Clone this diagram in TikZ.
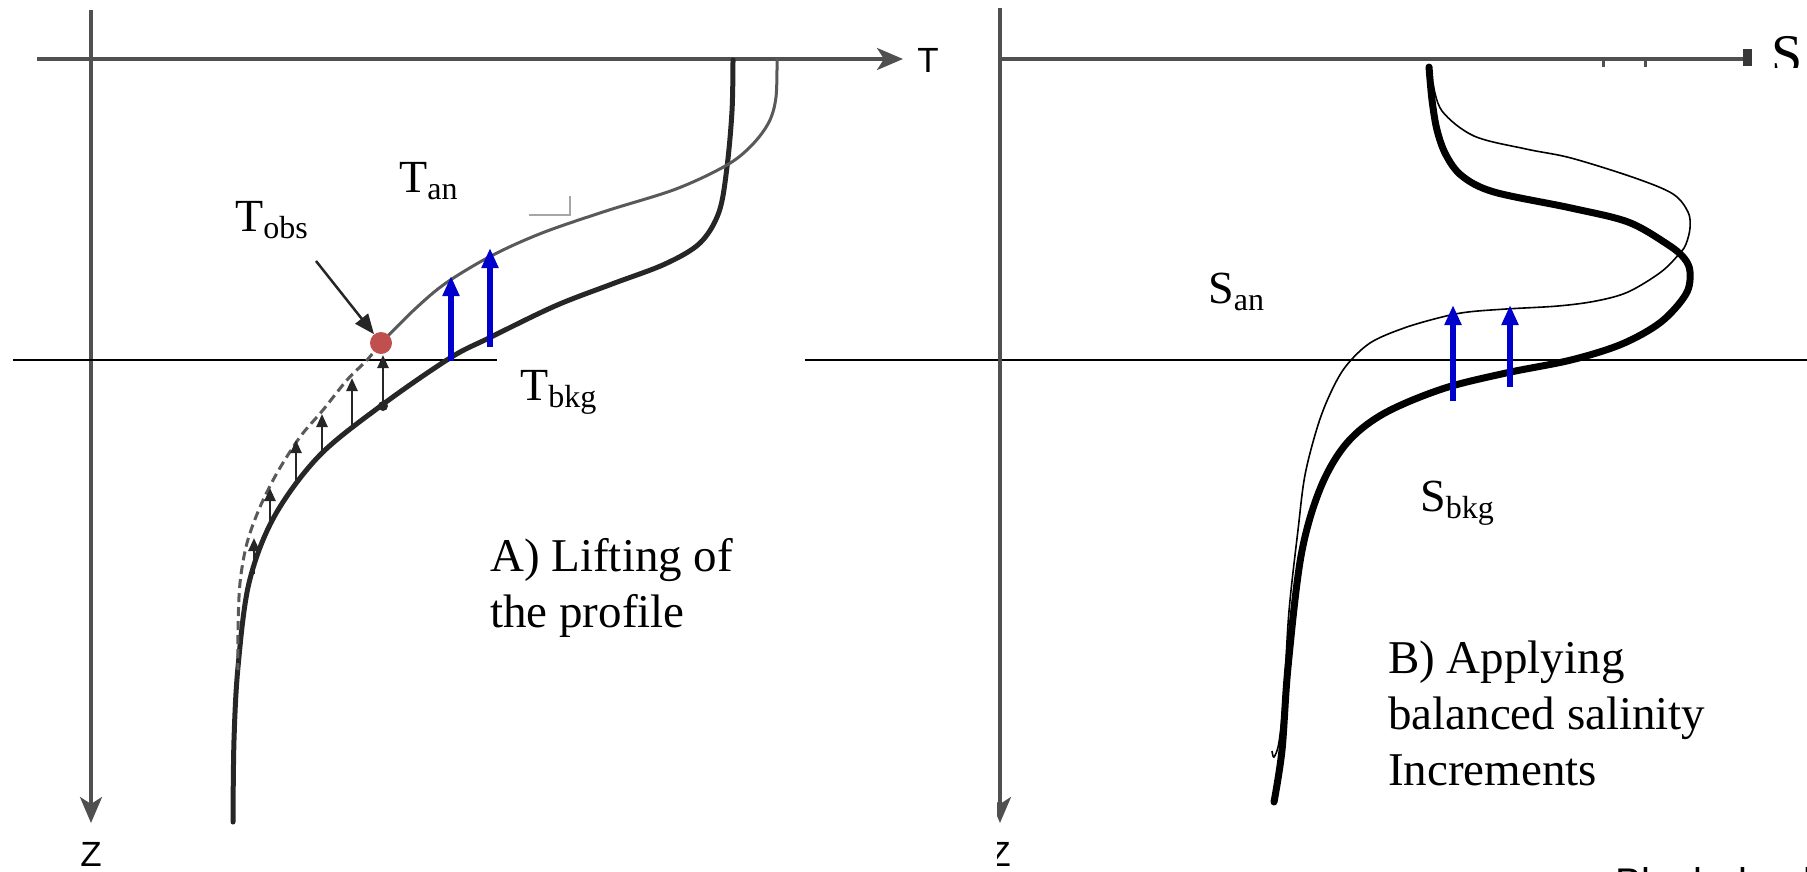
\documentclass[tikz,border=0pt]{standalone}
\usepackage{fontspec}
\setmainfont{Liberation Serif}
\newfontfamily\axisfont{Liberation Sans}
\usetikzlibrary{arrows.meta}
\definecolor{dotred}{RGB}{192,80,77}
\definecolor{incblue}{RGB}{0,0,204}
\definecolor{axisgray}{RGB}{80,80,80}
\newcommand{\sublbl}[2]{{\fontsize{46}{50}\selectfont #1}\raisebox{-7pt}{\fontsize{32}{36}\selectfont #2}}
\begin{document}
\begin{tikzpicture}[x=1pt,y=-1pt,
  axisln/.style={draw=axisgray,line width=3.5pt},
  axtip/.style={-{Stealth[length=26pt,width=22pt,inset=7pt]}},
  levelln/.style={draw=black,line width=2pt},
  bkgT/.style={draw=black!85,line width=5pt,line cap=round},
  anT/.style={draw=black!65,line width=3pt},
  liftdash/.style={draw=black!65,line width=3pt,dash pattern=on 9pt off 5pt},
  lift/.style={draw=black!85,line width=2.5pt,-{Triangle[length=13pt,width=11pt]}},
  incr/.style={draw=incblue,line width=5.5pt,-{Triangle[length=20pt,width=16pt]}},
  bkgS/.style={draw=black,line width=7pt,line cap=round},
  anS/.style={draw=black,line width=1.6pt},
  lbl/.style={inner sep=0pt,anchor=base west},
  caption/.style={inner sep=0pt,anchor=base west,font=\fontsize{47}{56}\selectfont},
  axlbl/.style={inner sep=0pt,font=\axisfont\fontsize{35}{38}\selectfont},
]
\useasboundingbox (0,0) rectangle (1807,871);
\fill[white] (0,0) rectangle (1807,871);

% ---------------- left panel: temperature ----------------
\draw[axisln,axtip] (37,59) -- (903,59);
\draw[axisln,axtip] (91,10) -- (91,823);
\node[axlbl] (tax) at (928,60) {T};
\node[axlbl] (zax) at (91,854) {Z};
\draw[levelln] (13,360) -- (497,360);

% background temperature (thick)
\draw[bkgT] plot[smooth,tension=0.55] coordinates {(733,60) (732,111) (727,167) (719,212) (700,243) (665,264) (612,284) (555,306) (489,338) (450,358) (382,405) (319,456) (274,517) (249,583) (238,667) (234,740) (233,822)};
% analysis temperature (thin)
\draw[anT] plot[smooth,tension=0.55] coordinates {(777,58) (776,97) (769,122) (752,145) (727,165) (676,189) (606,211) (542,233) (491,256) (446,283) (415,309) (381,343)};
% lifted part (dashed)
\draw[liftdash] plot[smooth,tension=0.55] coordinates {(381,343) (367,360) (347,380) (323,410) (300,437) (277,473) (260,507) (247,543) (240,583) (238,630) (238,670)};

% lifting arrows
\fill[black!85] (383,406) circle (5);
\coordinate (l1s) at (383,406); \coordinate (l1e) at (383,355);
\coordinate (l2s) at (352,428); \coordinate (l2e) at (352,378);
\coordinate (l3s) at (322,456); \coordinate (l3e) at (322,414);
\coordinate (l4s) at (296,486); \coordinate (l4e) at (296,440);
\coordinate (l5s) at (270,528); \coordinate (l5e) at (270,488);
\coordinate (l6s) at (254,574); \coordinate (l6e) at (254,538);
\foreach \i in {1,...,6} {\draw[lift] (l\i s) -- (l\i e);}

% blue increments
\coordinate (tb1s) at (451,361); \coordinate (tb1e) at (451,276);
\coordinate (tb2s) at (490,347); \coordinate (tb2e) at (490,248);
\draw[incr] (tb1s) -- (tb1e);
\draw[incr] (tb2s) -- (tb2e);

% observation
\node[circle,fill=dotred,minimum size=22pt,inner sep=0pt] (obs) at (381,343) {};
\coordinate (obsfrom) at (316,261);
\draw[draw=black!85,line width=2.5pt,-{Triangle[length=20pt,width=16pt]}] (obsfrom) -- (obs);

% small artefact mark
\draw[gray!70,line width=1.3pt] (529,215) -- (570,215) -- (570,196);

% labels
\node[lbl] (tan) at (399,192) {\sublbl{T}{an}};
\node[lbl] (tobs) at (235,231) {\sublbl{T}{obs}};
\node[lbl] (tbkg) at (520,400) {\sublbl{T}{bkg}};
\node[caption] (capA) at (490,571) {\begin{tabular}[t]{@{}l@{}}A) Lifting of\\the profile\end{tabular}};

% ---------------- right panel: salinity ----------------
\draw[levelln] (805,360) -- (1807,360);
\draw[axisln] (998,59) -- (1745,59);
\fill[axisgray!70!black] (1743,49) rectangle (1752,66);
\draw[axisgray,line width=3pt] (1603,59) -- (1603,67);
\draw[axisgray,line width=3pt] (1645,59) -- (1645,67);
\begin{scope}
  \clip (997,0) rectangle (1807,871);
  \draw[axisln,axtip] (1000,8) -- (1000,823);
  \node[axlbl] (zax2) at (1000,854) {Z};
\end{scope}
\begin{scope}
  \clip (1760,0) rectangle (1807,67);
  \node[lbl,font=\fontsize{56}{60}\selectfont] (sax) at (1771,73) {S};
\end{scope}

% background salinity (thick)
\draw[bkgS] plot[smooth,tension=0.55] coordinates {(1429,67) (1432,100) (1437,130) (1446,155) (1462,176) (1494,192) (1571,208) (1628,222) (1667,244) (1684,258) (1690,272) (1686,294) (1661,322) (1622,344) (1571,360) (1506,373) (1442,389) (1383,414) (1346,444) (1320,489) (1301,556) (1288,667) (1282,750) (1274,802)};
% analysis salinity (thin)
\draw[anS] plot[smooth,tension=0.55] coordinates {(1433,83) (1442,111) (1474,136) (1526,149) (1571,158) (1635,178) (1673,194) (1688,212) (1690,228) (1686,244) (1680,253) (1661,272) (1628,292) (1596,301) (1558,306) (1506,309) (1468,312) (1442,317) (1404,328) (1370,343) (1346,366) (1331,392) (1318,425) (1305,475) (1298,530) (1289,611) (1284,694) (1279,742) (1274,757) (1272,751)};

% blue increments
\coordinate (sb1s) at (1453,401); \coordinate (sb1e) at (1453,305);
\coordinate (sb2s) at (1510,387); \coordinate (sb2e) at (1510,305);
\draw[incr] (sb1s) -- (sb1e);
\draw[incr] (sb2s) -- (sb2e);

% labels
\node[lbl] (san) at (1208,303) {\sublbl{S}{an}};
\node[lbl] (sbkg) at (1420,511) {\sublbl{S}{bkg}};
\node[caption] (capB) at (1388,673) {\begin{tabular}[t]{@{}l@{}}B) Applying\\balanced salinity\\Increments\end{tabular}};

% bottom text (cut by the page edge)
\begin{scope}
  \clip (1600,840) rectangle (1807,871);
  \node[lbl,font=\axisfont\fontsize{40}{44}\selectfont] (note) at (1615,896) {Black: background};
\end{scope}
\end{tikzpicture}
\end{document}
